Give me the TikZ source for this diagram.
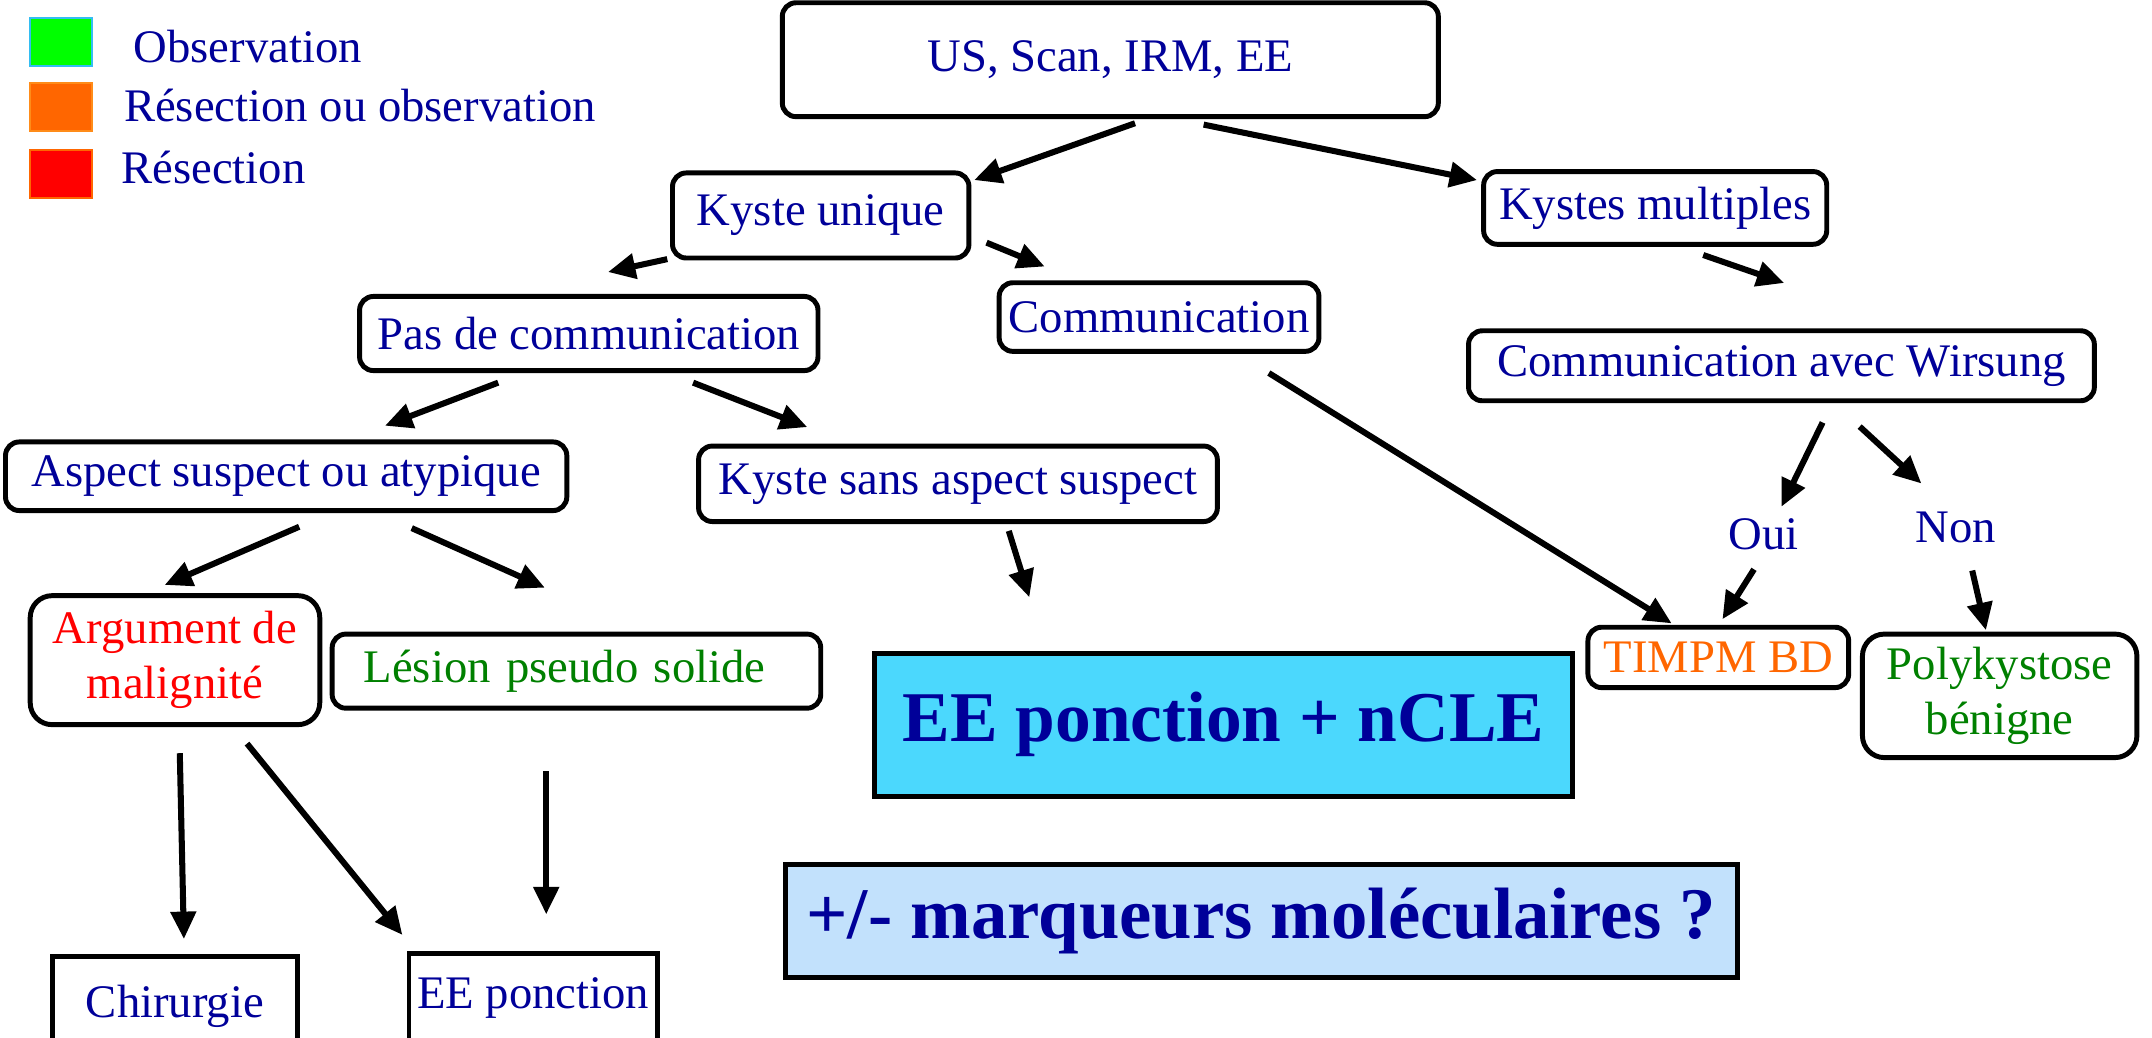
\documentclass[tikz,border=0pt]{standalone}
\usepackage{fontspec}
\setmainfont{Liberation Serif}
\usepackage{xcolor}
\usetikzlibrary{positioning, arrows.meta, calc}

\definecolor{navytext}{HTML}{000099}
\definecolor{greentext}{HTML}{008000}
\definecolor{orangetext}{HTML}{FF6600}
\definecolor{cyanfill}{HTML}{4BD8FD}
\definecolor{paleblue}{HTML}{C2E1FC}

\begin{document}
\begin{tikzpicture}[
    x=0.5pt, y=-0.5pt,
    font=\fontsize{17}{20}\selectfont,
    box/.style={rectangle, rounded corners=5pt, draw=black, line width=1.8pt, text=navytext, align=center, inner sep=0pt},
    sqbox/.style={box, sharp corners},
    arr/.style={-{Triangle[length=10pt, width=9pt]}, line width=2.2pt},
    legendsq/.style={rectangle, minimum width=22.5pt, minimum height=17.5pt, inner sep=0pt, line width=0.8pt},
    legendtxt/.style={anchor=west, inner sep=0pt, text=navytext}
]
    \useasboundingbox (0,0) rectangle (1568,756);

    % legend
    \node[legendsq, fill=green, draw=cyan!80] (obs) at (44.5,30.5) {};
    \node[legendsq, fill=orangetext, draw=orange!90] (resobs) at (44.5,78) {};
    \node[legendsq, fill=red, draw=orangetext] (res) at (44.5,126.5) {};
    \node[legendtxt] (obstxt) at (97,34) {Observation};
    \node[legendtxt] (resobstxt) at (90,77) {Résection ou observation};
    \node[legendtxt] (restxt) at (88,122) {Résection};

    % boxes
    \node[box, minimum width=239pt, minimum height=41.5pt] (top) at (809,43.5) {US, Scan, IRM, EE};
    \node[box, minimum width=108pt, minimum height=31pt] (ku) at (598,157) {Kyste unique};
    \node[box, minimum width=125pt, minimum height=26.5pt] (km) at (1206,151.5) {Kystes multiples};
    \node[box, minimum width=167pt, minimum height=27pt] (pdc) at (429,243) {Pas de communication};
    \node[box, minimum width=116.5pt, minimum height=25pt] (comm) at (844.5,231) {Communication};
    \node[box, minimum width=228pt, minimum height=25.5pt] (wir) at (1298,266.5) {Communication avec Wirsung};
    \node[box, minimum width=204.5pt, minimum height=25pt] (asp) at (208.5,347) {Aspect suspect ou atypique};
    \node[box, minimum width=189pt, minimum height=27.5pt] (ksas) at (698,352.5) {Kyste sans aspect suspect};
    \node[box, rounded corners=8pt, text=red, minimum width=105.5pt, minimum height=47pt] (arg) at (127.5,481) {Argument de\\malignité};
    \node[box, text=greentext, align=left, text width=155pt, inner xsep=11.5pt, minimum height=27pt] (les) at (420,489) {Lésion pseudo solide};
    \node[sqbox, fill=cyanfill, minimum width=254.5pt, minimum height=52pt, font=\fontsize{26}{30}\selectfont\bfseries] (ncle) at (891.5,528) {EE ponction + nCLE};
    \node[sqbox, fill=paleblue, minimum width=347pt, minimum height=41pt, font=\fontsize{26.5}{30}\selectfont\bfseries] (marq) at (919,671) {+/- marqueurs moléculaires ?};
    \node[box, text=orangetext, minimum width=95pt, minimum height=22pt] (timpm) at (1252,479) {TIMPM BD};
    \node[box, rounded corners=8pt, text=greentext, minimum width=100pt, minimum height=45pt] (poly) at (1457,507) {Polykystose\\bénigne};
    \node[sqbox, minimum width=89.5pt, minimum height=36.5pt] (chir) at (127.5,733.5) {Chirurgie};
    \node[sqbox, minimum width=90.5pt, minimum height=32.5pt] (eep) at (388.5,727.5) {EE ponction};
    \node[text=navytext, inner sep=1pt] (oui) at (1285,389) {Oui};
    \node[text=navytext, inner sep=1pt] (non) at (1425,384) {Non};

    % arrows
    \draw[arr] ($(top.south)+(18,3)$) -- ($(ku.north east)+(2,7)$);
    \draw[arr] ($(top.south)+(68,4)$) -- ($(km.north west)+(-3,8)$);
    \draw[arr] ($(ku.south west)+(-2,-1)$) -- ($(pdc.north)+(14,-16)$);
    \draw[arr] ($(ku.south east)+(11,-13)$) -- ($(comm.north west)+(35,-10)$);
    \draw[arr] ($(km.south)+(35,6)$) -- ($(wir.north)+(2,-33)$);
    \draw[arr] ($(pdc.south)+(-66,7)$) -- ($(asp.north)+(72,-10)$);
    \draw[arr] ($(pdc.south)+(76,7)$) -- ($(ksas.north west)+(81,-12)$);
    \draw[arr] ($(comm.south)+(80,14)$) -- ($(timpm.north)+(-34,-1)$);
    \draw[arr] ($(wir.south)+(30,14)$) -- ($(oui.north)+(13,-6)$);
    \draw[arr] ($(wir.south)+(57,17)$) -- ($(non.north)+(-25,-18)$);
    \draw[arr] ($(oui.south)+(-7,12)$) -- ($(timpm.north)+(3,-4)$);
    \draw[arr] ($(non.south)+(12,18)$) -- ($(poly.north)+(-10,-1)$);
    \draw[arr] ($(asp.south)+(9.5,10)$) -- ($(arg.north)+(-7.5,-6)$);
    \draw[arr] ($(asp.south)+(91.5,11)$) -- ($(les.north)+(-23,-32)$);
    \draw[arr] ($(ksas.south)+(37,5)$) -- ($(ncle.north)+(-141.5,-39)$);
    \draw[arr] ($(arg.south)+(3.5,19)$) -- ($(chir.north)+(6.5,-11)$);
    \draw[arr] ($(arg.south)+(52.5,12)$) -- ($(eep.north west)+(-3,-12)$);
    \draw[arr] ($(les.south)+(-22,44)$) -- ($(eep.north)+(9.5,-27)$);
\end{tikzpicture}
\end{document}
